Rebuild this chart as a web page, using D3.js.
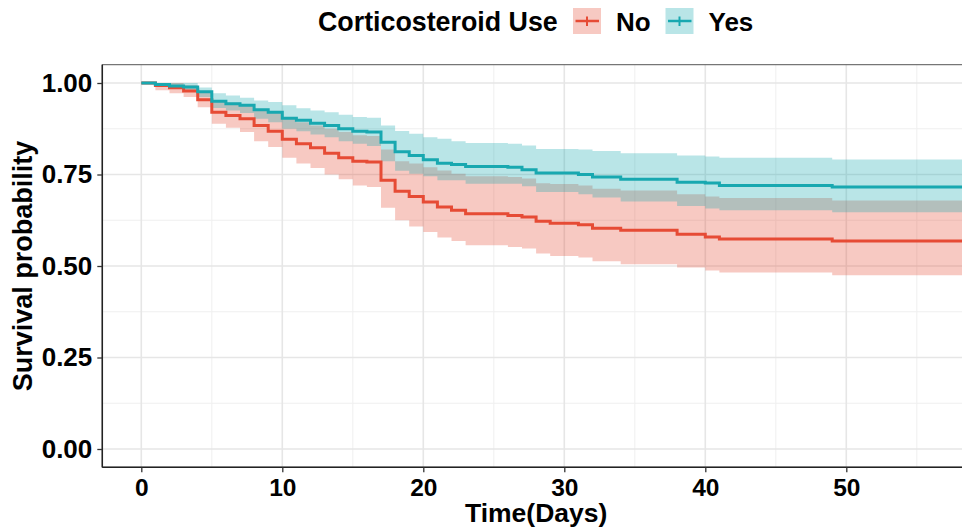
<!DOCTYPE html>
<html>
<head>
<meta charset="utf-8">
<script src="https://cdn.jsdelivr.net/npm/d3@7"></script>
<style>
  body { margin: 0; background: #fff; }
  svg { display: block; font-family: "Liberation Sans", Arial, sans-serif; font-weight: bold; }
</style>
</head>
<body>
<div id="chart"></div>
<script>
// step times (days) where the curves change
var times = [0,1,2,3,4,5,6,7,8,9,10,11,12,13,14,15,16,17,18,19,20,21,22,23,26,27,28,29,31,32,34,38,40,41,49]

// Corticosteroid Use = No
var noSurv  = [1.000,0.993,0.987,0.978,0.954,0.920,0.911,0.902,0.884,0.868,0.846,0.834,0.823,0.808,0.796,0.786,0.784,0.734,0.704,0.690,0.675,0.661,0.652,0.643,0.638,0.634,0.622,0.617,0.613,0.603,0.598,0.587,0.579,0.574,0.568]
var noLower = [1.000,0.980,0.972,0.962,0.934,0.889,0.878,0.866,0.841,0.825,0.796,0.780,0.768,0.750,0.737,0.720,0.716,0.659,0.625,0.608,0.593,0.578,0.568,0.557,0.552,0.548,0.534,0.527,0.523,0.513,0.505,0.496,0.488,0.482,0.475]
var noUpper = [1.000,1.000,1.000,0.994,0.978,0.952,0.946,0.939,0.927,0.918,0.902,0.893,0.884,0.875,0.866,0.857,0.855,0.818,0.786,0.780,0.770,0.761,0.752,0.745,0.743,0.739,0.726,0.724,0.720,0.711,0.706,0.696,0.690,0.686,0.679]

// Corticosteroid Use = Yes
var yesSurv  = [1.000,0.996,0.992,0.989,0.976,0.950,0.943,0.939,0.927,0.920,0.904,0.898,0.890,0.884,0.875,0.868,0.866,0.838,0.812,0.802,0.790,0.781,0.777,0.772,0.770,0.763,0.754,0.754,0.750,0.743,0.737,0.729,0.727,0.720,0.716]
var yesLower = [1.000,0.990,0.984,0.978,0.962,0.932,0.925,0.918,0.902,0.893,0.875,0.868,0.859,0.852,0.841,0.834,0.828,0.786,0.760,0.752,0.745,0.734,0.734,0.725,0.725,0.718,0.702,0.702,0.696,0.687,0.676,0.664,0.657,0.652,0.647]
var yesUpper = [1.000,1.000,1.000,1.000,0.988,0.972,0.966,0.960,0.952,0.948,0.939,0.931,0.925,0.920,0.913,0.907,0.905,0.884,0.869,0.861,0.852,0.848,0.841,0.836,0.834,0.829,0.820,0.820,0.818,0.814,0.808,0.802,0.799,0.796,0.791]

var lastTime = 60

var groups = ["No", "Yes"]
var colors = ["#E64B35", "#18A8B0"]

var xTicks = [0, 10, 20, 30, 40, 50]
var xMinor = [5, 15, 25, 35, 45, 55]
var yTicks = [0, 0.25, 0.5, 0.75, 1]
var yMinor = [0.125, 0.375, 0.625, 0.875]

var width = 962
var height = 530
var pLeft = 102.3, pRight = 970, pTop = 64.7, pBottom = 467.3

var x = d3.scaleLinear().domain([0, 50]).range([141.3, 846.3])
var y = d3.scaleLinear().domain([-0.05, 1.05]).range([pBottom, pTop])

function series(s, lo, hi) {
    var d = times.map((t, i) => ({t: t, s: s[i], lo: lo[i], hi: hi[i]}))
    var l = d[d.length - 1]
    d.push({t: lastTime, s: l.s, lo: l.lo, hi: l.hi})
    return d
}

var data = [series(noSurv, noLower, noUpper), series(yesSurv, yesLower, yesUpper)]

var svg = d3.select("#chart").append("svg")
    .attr("width", width)
    .attr("height", height)

svg.append("defs").append("clipPath").attr("id", "panel")
    .append("rect")
    .attr("x", pLeft).attr("y", pTop)
    .attr("width", pRight - pLeft).attr("height", pBottom - pTop)

// grid
var grid = svg.append("g")
grid.selectAll(".ym").data(yMinor).join("line")
    .attr("x1", pLeft).attr("x2", pRight)
    .attr("y1", d => y(d)).attr("y2", d => y(d))
    .attr("stroke", "#EFEFEF").attr("stroke-width", 1)
grid.selectAll(".xm").data(xMinor).join("line")
    .attr("y1", pTop).attr("y2", pBottom)
    .attr("x1", d => x(d)).attr("x2", d => x(d))
    .attr("stroke", "#EFEFEF").attr("stroke-width", 1)
grid.selectAll(".yM").data(yTicks).join("line")
    .attr("x1", pLeft).attr("x2", pRight)
    .attr("y1", d => y(d)).attr("y2", d => y(d))
    .attr("stroke", "#E6E6E6").attr("stroke-width", 1.6)
grid.selectAll(".xM").data(xTicks).join("line")
    .attr("y1", pTop).attr("y2", pBottom)
    .attr("x1", d => x(d)).attr("x2", d => x(d))
    .attr("stroke", "#E6E6E6").attr("stroke-width", 1.6)

var plot = svg.append("g").attr("clip-path", "url(#panel)")

var area = d3.area()
    .curve(d3.curveStepAfter)
    .x(d => x(d.t))
    .y0(d => y(d.lo))
    .y1(d => y(d.hi))

var line = d3.line()
    .curve(d3.curveStepAfter)
    .x(d => x(d.t))
    .y(d => y(d.s))

plot.selectAll(".band").data(data).join("path")
    .attr("d", area)
    .attr("fill", (d, i) => colors[i])
    .attr("fill-opacity", 0.3)

plot.selectAll(".curve").data(data).join("path")
    .attr("d", line)
    .attr("fill", "none")
    .attr("stroke", (d, i) => colors[i])
    .attr("stroke-width", 3)

// panel border
svg.append("rect")
    .attr("x", pLeft).attr("y", pTop)
    .attr("width", pRight - pLeft).attr("height", pBottom - pTop)
    .attr("fill", "none").attr("stroke", "#555").attr("stroke-width", 1)
svg.append("line").attr("x1", pLeft).attr("x2", pLeft).attr("y1", pTop).attr("y2", pBottom)
    .attr("stroke", "#222").attr("stroke-width", 1.5)
svg.append("line").attr("x1", pLeft).attr("x2", pRight).attr("y1", pBottom).attr("y2", pBottom)
    .attr("stroke", "#222").attr("stroke-width", 1.5)

// axes
var yAxis = svg.append("g")
    .attr("transform", `translate(${pLeft},0)`)
    .call(d3.axisLeft(y).tickValues(yTicks).tickFormat(d3.format(".2f")).tickSize(5).tickPadding(5))
yAxis.select(".domain").remove()
yAxis.selectAll("line").attr("stroke", "#333").attr("stroke-width", 1.3)
yAxis.selectAll("text")
    .attr("font-family", "Liberation Sans, Arial, sans-serif")
    .attr("font-weight", "bold")
    .attr("font-size", 26)
    .attr("fill", "#000")

var xAxis = svg.append("g")
    .attr("transform", `translate(0,${pBottom})`)
    .call(d3.axisBottom(x).tickValues(xTicks).tickSize(5).tickPadding(6))
xAxis.select(".domain").remove()
xAxis.selectAll("line").attr("stroke", "#333").attr("stroke-width", 1.3)
xAxis.selectAll("text")
    .attr("font-family", "Liberation Sans, Arial, sans-serif")
    .attr("font-weight", "bold")
    .attr("font-size", 24.5)
    .attr("fill", "#000")

svg.append("text")
    .attr("x", (pLeft + pRight) / 2).attr("y", 522)
    .attr("text-anchor", "middle")
    .attr("font-size", 26.5)
    .text("Time(Days)")

svg.append("text")
    .attr("transform", `translate(32,${(pTop + pBottom) / 2}) rotate(-90)`)
    .attr("text-anchor", "middle")
    .attr("font-size", 27)
    .text("Survival probability")

// legend
var legend = svg.append("g")
legend.append("text")
    .attr("x", 318).attr("y", 31)
    .attr("font-size", 26.8)
    .text("Corticosteroid Use")

var keyX = [573, 665.5]
var key = legend.selectAll(".key").data(groups).join("g")
    .attr("transform", (d, i) => `translate(${keyX[i]},8)`)
key.append("rect")
    .attr("width", 28).attr("height", 26)
    .attr("fill", (d, i) => colors[i]).attr("fill-opacity", 0.3)
key.append("line")
    .attr("x1", 2.5).attr("x2", 26).attr("y1", 13).attr("y2", 13)
    .attr("stroke", (d, i) => colors[i]).attr("stroke-width", 2.5)
key.append("line")
    .attr("x1", 14).attr("x2", 14).attr("y1", 8.5).attr("y2", 18)
    .attr("stroke", (d, i) => colors[i]).attr("stroke-width", 2)
key.append("text")
    .attr("x", 43).attr("y", 23)
    .attr("font-size", 26)
    .text(d => d)
</script>
</body>
</html>
